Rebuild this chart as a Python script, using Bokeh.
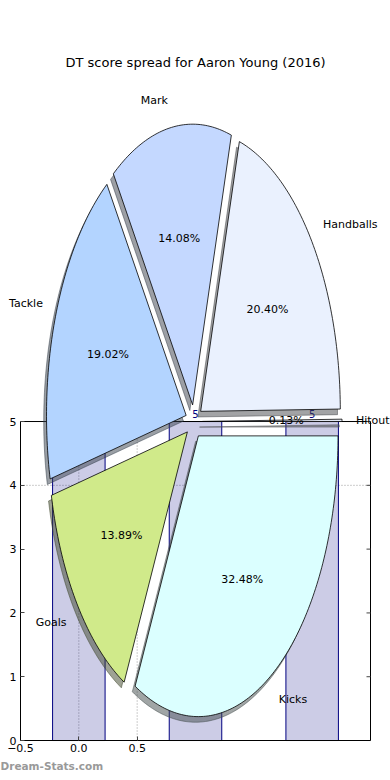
import numpy as np
from bokeh.plotting import figure
from bokeh.models import Range1d, FixedTicker, Title
from bokeh.core.properties import value
from bokeh.embed import file_html
from bokeh.resources import INLINE

# ---------------- data ----------------
chart_title = "DT score spread for Aaron Young (2016)"
watermark = "Dream-Stats.com"
categories = ["Hitout", "Handballs", "Mark", "Tackle", "Goals", "Kicks"]
shares = [0.13, 20.40, 14.08, 19.02, 13.89, 32.48]
pie_colors = ["#eef4ff", "#eaf1fe", "#c4d8ff", "#b3d4ff", "#d0ea8a", "#dbffff"]

bar_x = [0, 1, 2]
bar_values = [5, 5, 5]

x_ticks = [-0.5, 0.0, 0.5]
x_tick_labels = ["\u22120.5", "0.0", "0.5"]
y_ticks = [0, 1, 2, 3, 4, 5]
x_grid = [0.0, 0.5]
y_grid = [4]

# ---------------- layout constants ----------------
AX_X = (-0.5, 2.5)          # bar axes limits
AX_Y = (0, 5)
X_RANGE = (-0.6714, 2.6714)  # whole canvas width
Y_RANGE = (-0.219, 10.345)
PX_PER_X = 390 / (X_RANGE[1] - X_RANGE[0])
TICK_PX = 4
BAR_WIDTH = 0.45
PIE_CX, PIE_CY = 0.987, 5.0
PIE_RX, PIE_RY = 1.197, 4.40
EXPLODE = 0.06
SHADOW = 0.02
FONT = "DejaVu Sans"

p = figure(x_range=Range1d(*X_RANGE), y_range=Range1d(*Y_RANGE),
           frame_width=390, frame_height=674,
           min_border_left=0, min_border_right=0, min_border_top=80, min_border_bottom=26,
           output_backend="svg", toolbar_location=None, title=chart_title)
p.outline_line_color = None
p.xgrid.visible = False
p.ygrid.visible = False
p.background_fill_color = "white"
p.border_fill_color = "white"

p.title.text_font = FONT
p.title.text_font_size = "13px"
p.title.text_font_style = "normal"
p.title.align = "center"
p.title.text_color = "black"
p.title.standoff = 21

# axes drawn at the bar-axes spines
p.xaxis.ticker = FixedTicker(ticks=x_ticks)
p.xaxis.major_label_overrides = {t: l for t, l in zip(x_ticks, x_tick_labels)}
p.xaxis.fixed_location = AX_Y[0]
p.xaxis.bounds = AX_X
p.yaxis.ticker = FixedTicker(ticks=y_ticks)
p.yaxis.fixed_location = AX_X[0]
p.yaxis.bounds = AX_Y
for ax in (p.xaxis[0], p.yaxis[0]):
    ax.major_tick_in = TICK_PX
    ax.major_tick_out = 0
    ax.minor_tick_in = 0
    ax.minor_tick_out = 0
    ax.axis_line_color = "black"
    ax.major_tick_line_color = "#444444"
    ax.major_label_text_font = FONT
    ax.major_label_text_font_size = "11px"
    ax.major_label_text_color = "black"
p.xaxis.major_label_standoff = 3
p.yaxis.major_label_standoff = 4

# grid lines (dotted), only inside the bar axes
p.segment(x0=x_grid, y0=[AX_Y[0]] * len(x_grid), x1=x_grid, y1=[AX_Y[1]] * len(x_grid),
          line_color="#9a9a9a", line_dash="1 2", line_width=1)
p.segment(x0=[AX_X[0]] * len(y_grid), y0=y_grid, x1=[AX_X[1]] * len(y_grid), y1=y_grid,
          line_color="#9a9a9a", line_dash="1 2", line_width=1)

# bars
p.vbar(x=bar_x, top=bar_values, bottom=0, width=BAR_WIDTH,
       fill_color="navy", fill_alpha=0.2, line_color="navy", line_width=1)
# top and right spines + right ticks
p.segment(x0=[AX_X[0]], y0=[AX_Y[1]], x1=[AX_X[1]], y1=[AX_Y[1]], line_color="black", line_width=1)
p.segment(x0=[AX_X[1]], y0=[AX_Y[0]], x1=[AX_X[1]], y1=[AX_Y[1]], line_color="black", line_width=1)
p.segment(x0=[AX_X[1]] * len(y_ticks), y0=y_ticks,
          x1=[AX_X[1] - TICK_PX / PX_PER_X] * len(y_ticks), y1=y_ticks,
          line_color="#444444", line_width=1)
# bar value labels
p.text(x=bar_x, y=bar_values, text=[str(v) for v in bar_values], text_align="center",
       text_baseline="bottom", y_offset=-4, text_color="navy",
       text_font=value(FONT), text_font_size="10px")

# ---------------- pie ----------------
def shade(hexcol, rho=0.3):
    h = hexcol.lstrip("#")
    r, g, b = (int(h[i:i + 2], 16) for i in (0, 2, 4))
    return "#%02x%02x%02x" % (int(r * rho), int(g * rho), int(b * rho))

total = float(sum(shares))
edges = np.concatenate([[0.0], np.cumsum(shares) / total * 2 * np.pi])

w_xs, w_ys, s_xs, s_ys, s_cols = [], [], [], [], []
lab_l = dict(x=[], y=[], t=[])
lab_r = dict(x=[], y=[], t=[])
pct = dict(x=[], y=[], t=[])
for i, name in enumerate(categories):
    t0, t1 = edges[i], edges[i + 1]
    tm = 0.5 * (t0 + t1)
    cx = PIE_CX + EXPLODE * PIE_RX * np.cos(tm)
    cy = PIE_CY + EXPLODE * PIE_RY * np.sin(tm)
    n = max(3, int(np.degrees(t1 - t0)) + 2)
    ts = np.linspace(t0, t1, n)
    xs = np.concatenate([[cx], cx + PIE_RX * np.cos(ts)])
    ys = np.concatenate([[cy], cy + PIE_RY * np.sin(ts)])
    w_xs.append(list(xs)); w_ys.append(list(ys))
    s_xs.append(list(xs - SHADOW * PIE_RX)); s_ys.append(list(ys - SHADOW * PIE_RY))
    s_cols.append(shade(pie_colors[i]))
    lx = cx + 1.1 * PIE_RX * np.cos(tm)
    ly = cy + 1.1 * PIE_RY * np.sin(tm)
    tgt = lab_l if lx > PIE_CX else lab_r
    tgt["x"].append(lx); tgt["y"].append(ly); tgt["t"].append(name)
    pct["x"].append(cx + 0.6 * PIE_RX * np.cos(tm))
    pct["y"].append(cy + 0.6 * PIE_RY * np.sin(tm))
    pct["t"].append("%.2f%%" % (100.0 * shares[i] / total))

p.patches(xs=s_xs, ys=s_ys, fill_color=s_cols, fill_alpha=0.5, line_color=s_cols, line_alpha=0.5)
p.patches(xs=w_xs, ys=w_ys, fill_color=pie_colors, line_color="black", line_width=0.8)

for d, align in ((lab_l, "left"), (lab_r, "right"), (pct, "center")):
    p.text(x=d["x"], y=d["y"], text=d["t"], text_align=align, text_baseline="middle",
           text_font=value(FONT), text_font_size="11px", text_color="black")

wm = Title(text=watermark, align="left", offset=0, text_font=FONT, text_font_size="10.5px",
           text_font_style="bold", text_color="#999999", standoff=7)
p.add_layout(wm, "below")

open("out.html", "w").write(file_html(p, INLINE))
